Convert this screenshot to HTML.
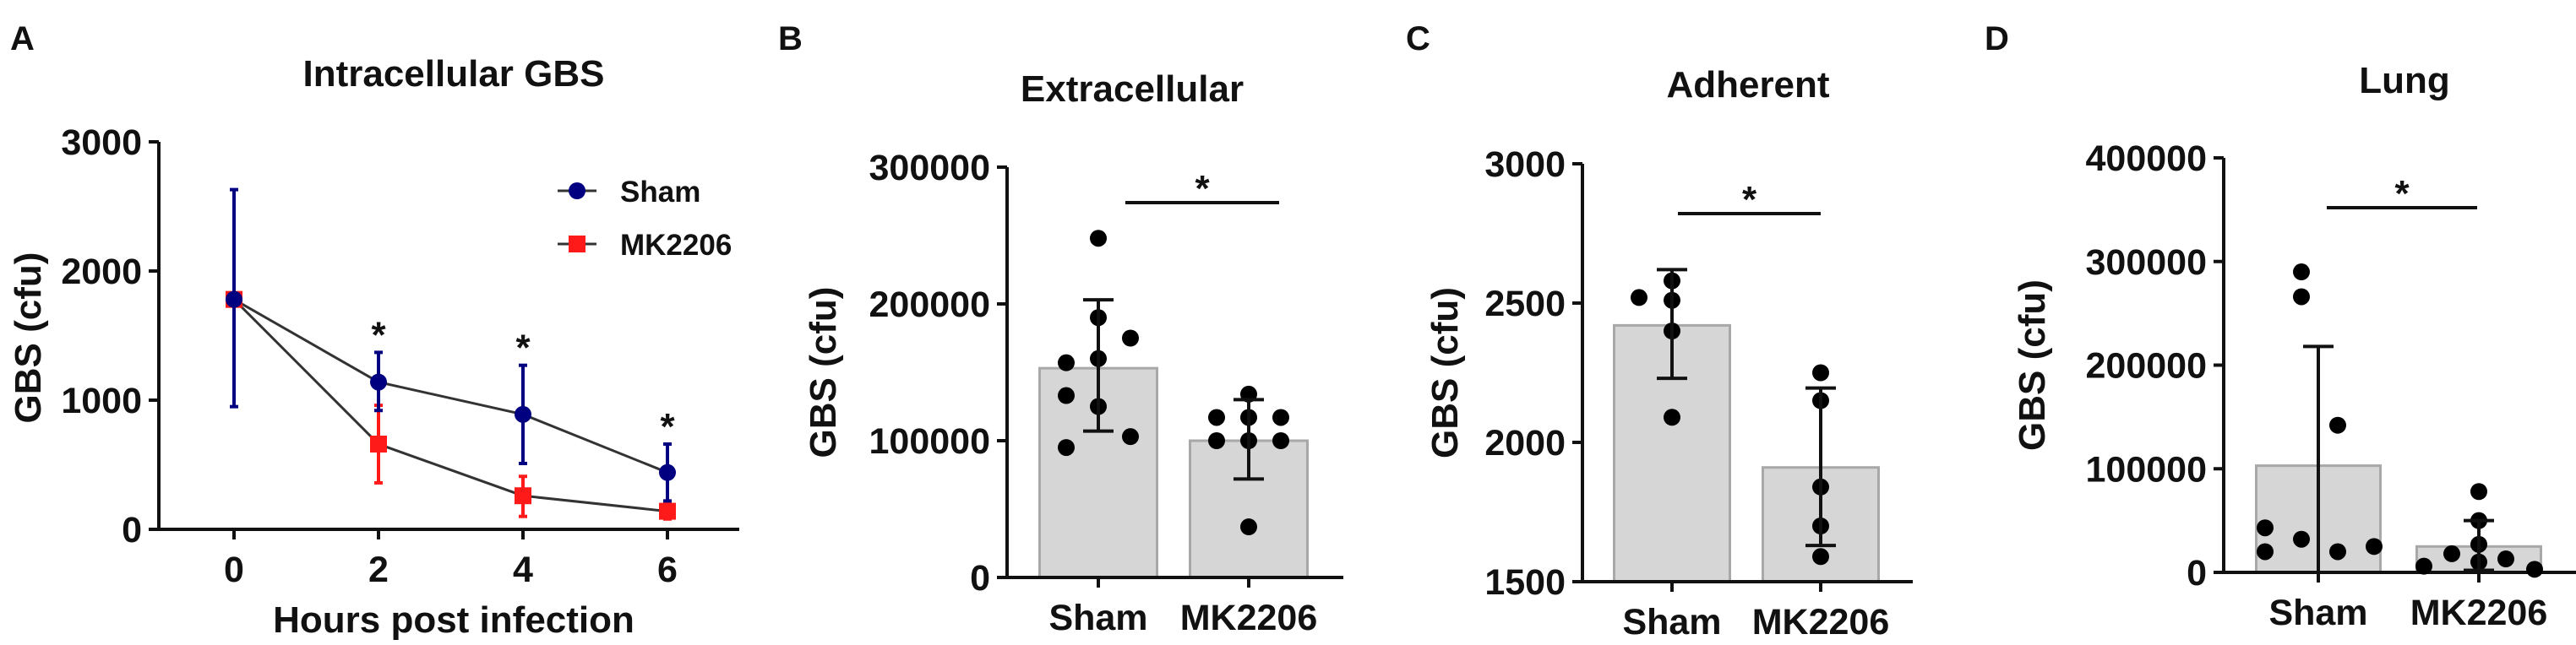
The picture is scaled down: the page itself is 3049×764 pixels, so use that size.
<!DOCTYPE html>
<html><head><meta charset="utf-8"><style>
body{margin:0;background:#fff;}
svg{display:block;font-family:"Liberation Sans",Arial,sans-serif;font-weight:bold;}
</style></head><body>
<svg id="fig" width="3049" height="764" viewBox="0 0 3049 764" xmlns="http://www.w3.org/2000/svg"></svg>
<script>
// Panel A data
const hours = [0, 2, 4, 6];
const shamMean = [1780, 1140, 890, 440];
const shamLo = [950, 920, 510, 220];
const shamHi = [2630, 1370, 1270, 660];
const mkMean = [1780, 660, 260, 140];
const mkLo = [1780, 360, 100, 80];
const mkHi = [1780, 960, 410, 200];
const aYTicks = [0, 1000, 2000, 3000];
const aXTicks = [0, 2, 4, 6];
const aStars = [2, 4, 6];
// Panel B
const bCats = ["Sham", "MK2206"];
const bMeans = [153000, 100000];
const bErrLo = [107000, 72000];
const bErrHi = [203000, 130000];
const bShamPts = [248000, 190000, 175000, 160000, 157000, 133000, 125000, 103000, 95000];
const bMkPts = [134000, 117000, 117000, 117000, 100000, 100000, 100000, 37000];
const bTicks = [0, 100000, 200000, 300000];
// Panel C
const cMeans = [2420, 1910];
const cErrLo = [2230, 1630];
const cErrHi = [2620, 2195];
const cShamPts = [2520, 2580, 2510, 2400, 2090];
const cMkPts = [2250, 2150, 1840, 1700, 1590];
const cTicks = [1500, 2000, 2500, 3000];
// Panel D
const dMeans = [103000, 25000];
const dErrLo = [0, 2000];
const dErrHi = [218000, 50000];
const dShamPts = [290000, 266000, 142000, 43000, 20000, 32000, 20000, 25000];
const dMkPts = [78000, 50000, 27000, 10000, 18000, 13000, 6000, 3000];
const dTicks = [0, 100000, 200000, 300000, 400000];

const NS = "http://www.w3.org/2000/svg";
const svg = document.getElementById('fig');
function mk(tag, attrs, parent, text){
  const e = document.createElementNS(NS, tag);
  for (const k in attrs) e.setAttribute(k, attrs[k]);
  if (text !== undefined) e.textContent = text;
  (parent || svg).appendChild(e);
  return e;
}
function label(x, y, t, size, anchor, name, rot){
  const e = mk('text', {x:x, y:y, 'font-size':size, 'text-anchor':anchor||'middle', fill:'#111'}, svg, t);
  if (rot) e.setAttribute('transform', 'rotate(-90 '+x+' '+y+')');
  
  
  return e;
}
function line(x1,y1,x2,y2,stroke,w,name){
  const e = mk('line',{x1:x1,y1:y1,x2:x2,y2:y2,stroke:stroke,'stroke-width':w});
  
  
  return e;
}
const TK = 43, TT = 44;

// ---------- Panel A ----------
(function(){
  const x0=188, yTop=168, yBot=627;
  const xs = h => 277 + (h/2)*171;
  const ys = v => yBot - (v/3000)*(yBot-yTop);
  label(12, 59, 'A', 40, 'start', 'panel-label-a');
  label(537, 102, 'Intracellular GBS', TT, 'middle', 'title-a');
  line(x0, yTop, x0, yBot+2, '#111', 4, 'y-axis-a');
  line(x0-2, yBot, 875, yBot, '#111', 4, 'x-axis-a');
  aYTicks.forEach(t=>{ line(x0-12, ys(t), x0, ys(t), '#111', 4, 'y-tick-a'); label(x0-20, ys(t)+15, String(t), TK, 'end', 'y-tick-label-a'); });
  aXTicks.forEach(t=>{ line(xs(t), yBot, xs(t), yBot+12, '#111', 4, 'x-tick-a'); label(xs(t), yBot+62, String(t), TK, 'middle', 'x-tick-label-a'); });
  label(48, 400, 'GBS (cfu)', TT, 'middle', 'y-axis-title-a', true);
  label(537, 749, 'Hours post infection', TT, 'middle', 'x-axis-title-a');
  const series = [[mkMean,mkLo,mkHi,'#ff1a1a','mk2206'],[shamMean,shamLo,shamHi,'#000080','sham']];
  series.forEach(s=>{
    const pts = hours.map((h,i)=>xs(h)+','+ys(s[0][i])).join(' ');
    const pl = mk('polyline',{points:pts,fill:'none',stroke:'#333','stroke-width':3});
    
    
  });
  series.forEach(s=>{
    hours.forEach((h,i)=>{
      const x=xs(h);
      line(x, ys(s[1][i]), x, ys(s[2][i]), s[3], 4, 'error-bar-'+s[4]);
      line(x-5, ys(s[1][i]), x+5, ys(s[1][i]), s[3], 4, 'error-cap-'+s[4]);
      line(x-5, ys(s[2][i]), x+5, ys(s[2][i]), s[3], 4, 'error-cap-'+s[4]);
      let m;
      if (s[4]==='sham') m = mk('circle',{cx:x,cy:ys(s[0][i]),r:10,fill:s[3]});
      else m = mk('rect',{x:x-10,y:ys(s[0][i])-10,width:20,height:20,fill:s[3]});
      
      
    });
  });
  aStars.forEach(h=>{
    const i = hours.indexOf(h);
    label(xs(h), ys(shamHi[i])-6, '*', 44, 'middle', 'significance-star-a');
  });
  // legend
  line(660, 226, 706, 226, '#333', 3, 'legend-line-sham');
  const lc = mk('circle',{cx:683,cy:226,r:10,fill:'#000080'});
  
  
  label(734, 239, 'Sham', 35, 'start', 'legend-label-sham');
  line(660, 289, 706, 289, '#333', 3, 'legend-line-mk2206');
  const lr = mk('rect',{x:673,y:279,width:20,height:20,fill:'#ff1a1a'});
  
  
  label(734, 302, 'MK2206', 35, 'start', 'legend-label-mk2206');
})();

// ---------- generic bar panel ----------
function barPanel(o){
  const ys = v => o.yBot - (v-o.min)/(o.max-o.min)*(o.yBot-o.yTop);
  label(o.letterX, 59, o.letter, 40, 'start', 'panel-label-'+o.id);
  label(o.titleX, o.titleY, o.title, TT, 'middle', 'title-'+o.id);
  label(o.x0-(o.ylabOff), (o.yTop+o.yBot)/2, 'GBS (cfu)', TT, 'middle', 'y-axis-title-'+o.id, true);
  const pts = [o.sham, o.mk];
  bCats.forEach((c,i)=>{
    const cx = o.cx[i];
    const r = mk('rect',{x:cx-o.bw/2,y:ys(o.means[i]),width:o.bw,height:o.yBot-ys(o.means[i]),fill:'#d6d6d6',stroke:'#a8a8a8','stroke-width':3});
    
    
  });
  line(o.x0, o.yTop, o.x0, o.yBot+2, '#111', 4, 'y-axis-'+o.id);
  line(o.x0-2, o.yBot, o.xEnd, o.yBot, '#111', 4, 'x-axis-'+o.id);
  o.ticks.forEach(t=>{ line(o.x0-12, ys(t), o.x0, ys(t), '#111', 4, 'y-tick-'+o.id); label(o.x0-20, ys(t)+15, String(t), TK, 'end', 'y-tick-label-'+o.id); });
  bCats.forEach((c,i)=>{
    const cx=o.cx[i];
    line(cx, o.yBot, cx, o.yBot+12, '#111', 4, 'x-tick-'+o.id);
    label(cx, o.yBot+62, c, TK, 'middle', 'x-tick-label-'+o.id);
    pts[i].forEach((v,j)=>{
      const p = mk('circle',{cx:cx+o.jit[i][j],cy:ys(v),r:10,fill:'#000'});
      
      
    });
    line(cx, ys(o.lo[i]), cx, ys(o.hi[i]), '#111', 4, 'error-bar-'+c.toLowerCase());
    line(cx-18, ys(o.hi[i]), cx+18, ys(o.hi[i]), '#111', 4, 'error-cap-'+c.toLowerCase());
    if (o.lo[i] > o.min) line(cx-18, ys(o.lo[i]), cx+18, ys(o.lo[i]), '#111', 4, 'error-cap-'+c.toLowerCase());
  });
  line(o.sig[0], o.sig[2], o.sig[1], o.sig[2], '#111', 4, 'significance-line-'+o.id);
  label((o.sig[0]+o.sig[1])/2, o.sig[2]-2, '*', 44, 'middle', 'significance-star-'+o.id);
}
barPanel({id:'b',letter:'B',letterX:921,title:'Extracellular',titleX:1340,titleY:120,x0:1192,xEnd:1590,yTop:198,yBot:684,min:0,max:300000,
  ticks:bTicks,means:bMeans,lo:bErrLo,hi:bErrHi,sham:bShamPts,mk:bMkPts,cx:[1300,1478],bw:139,ylabOff:203,
  jit:[[0,0,38,0,-38,-38,0,38,-38],[0,-38,0,38,-38,0,38,0]],sig:[1332,1514,240]});
barPanel({id:'c',letter:'C',letterX:1664,title:'Adherent',titleX:2069,titleY:115,x0:1873,xEnd:2264,yTop:194,yBot:689,min:1500,max:3000,
  ticks:cTicks,means:cMeans,lo:cErrLo,hi:cErrHi,sham:cShamPts,mk:cMkPts,cx:[1979,2155],bw:137,ylabOff:148,
  jit:[[-39,0,0,0,0],[0,0,0,0,0]],sig:[1986,2155,253]});
barPanel({id:'d',letter:'D',letterX:2349,title:'Lung',titleX:2846,titleY:110,x0:2632,xEnd:3049,yTop:187,yBot:678,min:0,max:400000,
  ticks:dTicks,means:dMeans,lo:dErrLo,hi:dErrHi,sham:dShamPts,mk:dMkPts,cx:[2744,2934],bw:147,ylabOff:212,
  jit:[[-20,-20,23,-63,-63,-20,23,66],[0,0,0,0,-32,32,-65,66]],sig:[2754,2932,246]});
</script>
</body></html>
